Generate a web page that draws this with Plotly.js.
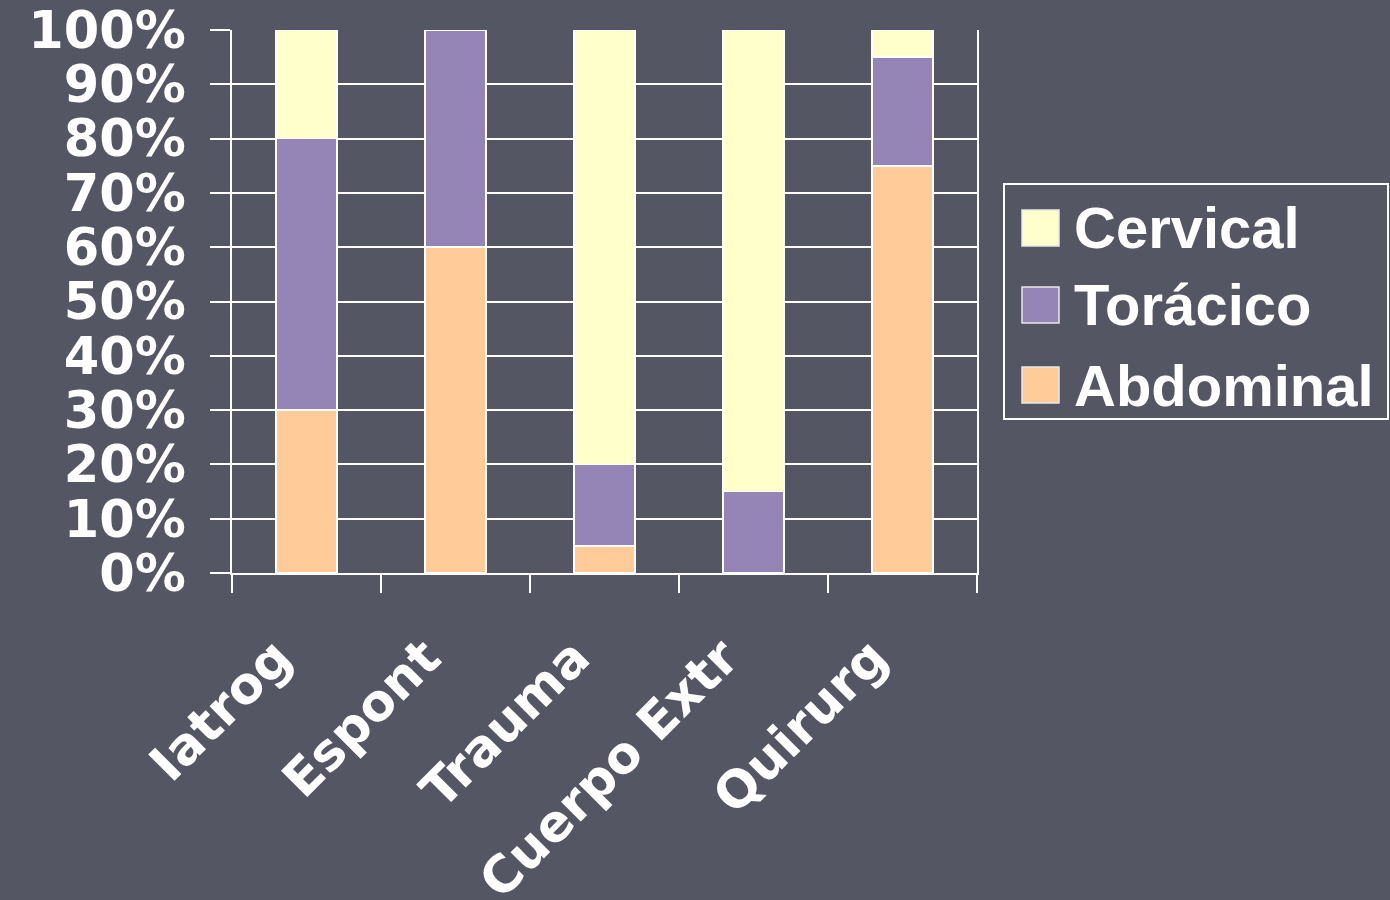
<!DOCTYPE html>
<html>
<head>
<meta charset="utf-8">
<script src="https://cdn.plot.ly/plotly-3.0.1.min.js"></script>
<style>
  html, body { margin: 0; padding: 0; background: #545664; }
  #chart { width: 1390px; height: 900px; }
</style>
</head>
<body>
<div id="chart"></div>
<script>
// ---- Data ----
const categories = ["Iatrog", "Espont", "Trauma", "Cuerpo Extr", "Quirurg"];
const abdominal = [30, 60, 5, 0, 75];
const toracico  = [50, 40, 15, 15, 20];
const cervical  = [20, 0, 80, 85, 5];
const seriesNames = ["Abdominal", "Torácico", "Cervical"];
const seriesColors = ["#FFCC99", "#9584B6", "#FFFFCC"];
const yTickVals = [0, 10, 20, 30, 40, 50, 60, 70, 80, 90, 100];
const yTickText = ["0%", "10%", "20%", "30%", "40%", "50%", "60%", "70%", "80%", "90%", "100%"];

const seriesValues = [abdominal, toracico, cervical];

const W = 1390, H = 900;
const M = { l: 232, r: 413, t: 30, b: 327 };
const pw = W - M.l - M.r, ph = H - M.t - M.b;
const px = x => (x - M.l) / pw;
const py = y => (H - M.b - y) / ph;

const traces = seriesNames.map((name, i) => ({
  type: "bar",
  name: name,
  x: categories,
  y: seriesValues[i],
  width: 0.41,
  marker: { color: seriesColors[i], line: { color: "#FFFFFF", width: 1.5 } },
  showlegend: false,
  hoverinfo: "x+y+name"
}));

// custom legend (large swatches), built from series arrays
const shapes = [{
  type: "rect", xref: "paper", yref: "paper",
  x0: px(1004), x1: px(1388), y0: py(419), y1: py(184),
  line: { color: "#FFFFFF", width: 2 }, fillcolor: "rgba(0,0,0,0)"
}];
const annotations = [];
const rowCenters = [228, 305, 385]; // top to bottom: Cervical, Torácico, Abdominal
for (let k = 0; k < 3; k++) {
  const i = 2 - k;
  const cy = rowCenters[k];
  shapes.push({
    type: "rect", xref: "paper", yref: "paper",
    x0: px(1022), x1: px(1059), y0: py(cy + 18), y1: py(cy - 18),
    line: { color: "#E8E8E8", width: 1.5 }, fillcolor: seriesColors[i]
  });
  annotations.push({
    xref: "paper", yref: "paper", x: px(1072), y: py(cy),
    xanchor: "left", yanchor: "middle", showarrow: false,
    text: seriesNames[i],
    font: { family: "Liberation Sans, Arial, sans-serif", size: 58, color: "#FFFFFF", weight: "bold" }
  });
}

const yTickFont = { family: "DejaVu Sans, Verdana, sans-serif", size: 51, color: "#FFFFFF", weight: "bold" };
const xTickFont = { family: "DejaVu Sans, Verdana, sans-serif", size: 51, color: "#FFFFFF", weight: "bold" };

const layout = {
  width: W, height: H,
  margin: M,
  paper_bgcolor: "#545664",
  plot_bgcolor: "rgba(0,0,0,0)",
  barmode: "stack",
  showlegend: false,
  xaxis: {
    type: "category",
    showgrid: false,
    showline: true, linecolor: "#FFFFFF", linewidth: 2,
    mirror: false,
    ticks: "outside", tickson: "boundaries", ticklen: 18, tickwidth: 2, tickcolor: "#FFFFFF",
    tickangle: -45,
    tickfont: xTickFont,
    ticklabelstandoff: 32,
    ticklabelshift: -30,
    zeroline: false
  },
  yaxis: {
    range: [0, 100],
    tickvals: yTickVals, ticktext: yTickText,
    showgrid: true, gridcolor: "#FFFFFF", gridwidth: 2,
    showline: true, linecolor: "#FFFFFF", linewidth: 2, mirror: true,
    ticks: "outside", ticklen: 20, tickwidth: 2, tickcolor: "#FFFFFF",
    tickfont: yTickFont,
    ticklabelstandoff: 14,
    zeroline: false
  },
  shapes: shapes,
  annotations: annotations
};

Plotly.newPlot("chart", traces, layout, { displayModeBar: false, staticPlot: true });
</script>
</body>
</html>
